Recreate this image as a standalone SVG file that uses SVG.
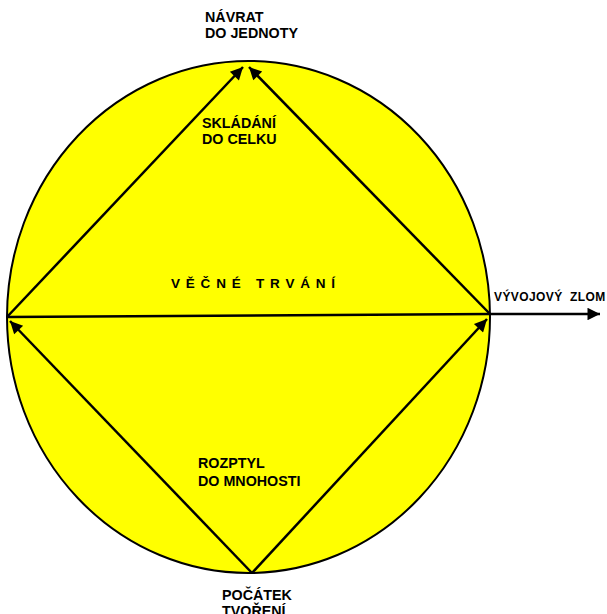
<svg xmlns="http://www.w3.org/2000/svg" width="607" height="614" viewBox="0 0 607 614">
<style>
.t{font-family:"Liberation Sans",Arial,sans-serif;font-weight:bold;font-size:14.3px;fill:#000}
.c{stroke:#000;stroke-width:2.5;fill:none}
</style>
<defs>
<marker id="ah" viewBox="0 0 10 10" refX="10" refY="5" markerWidth="6" markerHeight="5" orient="auto" markerUnits="strokeWidth">
<path d="M0,0 L10,5 L0,10 z" fill="#000"/>
</marker>
</defs>
<rect width="607" height="614" fill="#fff"/>
<g id="circle"><ellipse cx="248.5" cy="317" rx="241.5" ry="256" fill="#ffff00" stroke="#000" stroke-width="2"/></g>
<g id="connectors">
<line class="c" x1="7" y1="317" x2="490" y2="314"/>
<line class="c" x1="490" y1="314" x2="600" y2="314" marker-end="url(#ah)"/>
<line class="c" x1="7" y1="317" x2="243" y2="67" marker-end="url(#ah)"/>
<line class="c" x1="490" y1="314" x2="249" y2="67" marker-end="url(#ah)"/>
<line class="c" x1="252" y1="573" x2="10" y2="321" marker-end="url(#ah)"/>
<line class="c" x1="252" y1="573" x2="487" y2="319" marker-end="url(#ah)"/>
</g>
<g id="navrat"><text class="t" x="205" y="22">NÁVRAT<tspan x="205" dy="16">DO JEDNOTY</tspan></text></g>
<g id="skladani"><text class="t" x="202" y="127.5">SKLÁDÁNÍ<tspan x="202" dy="16">DO CELKU</tspan></text></g>
<g id="vecne"><text class="t" x="171" y="288" style="font-size:13.5px;letter-spacing:5.8px">VĚČNÉ TRVÁNÍ</text></g>
<g id="zlom"><text class="t" x="494" y="301" style="font-size:12px;letter-spacing:0.4px" xml:space="preserve">VÝVOJOVÝ  ZLOM</text></g>
<g id="rozptyl"><text class="t" x="198" y="468">ROZPTYL<tspan x="198" dy="18">DO MNOHOSTI</tspan></text></g>
<g id="pocatek"><text class="t" x="222" y="600">POČÁTEK<tspan x="222" dy="16">TVOŘENÍ</tspan></text></g>
</svg>
